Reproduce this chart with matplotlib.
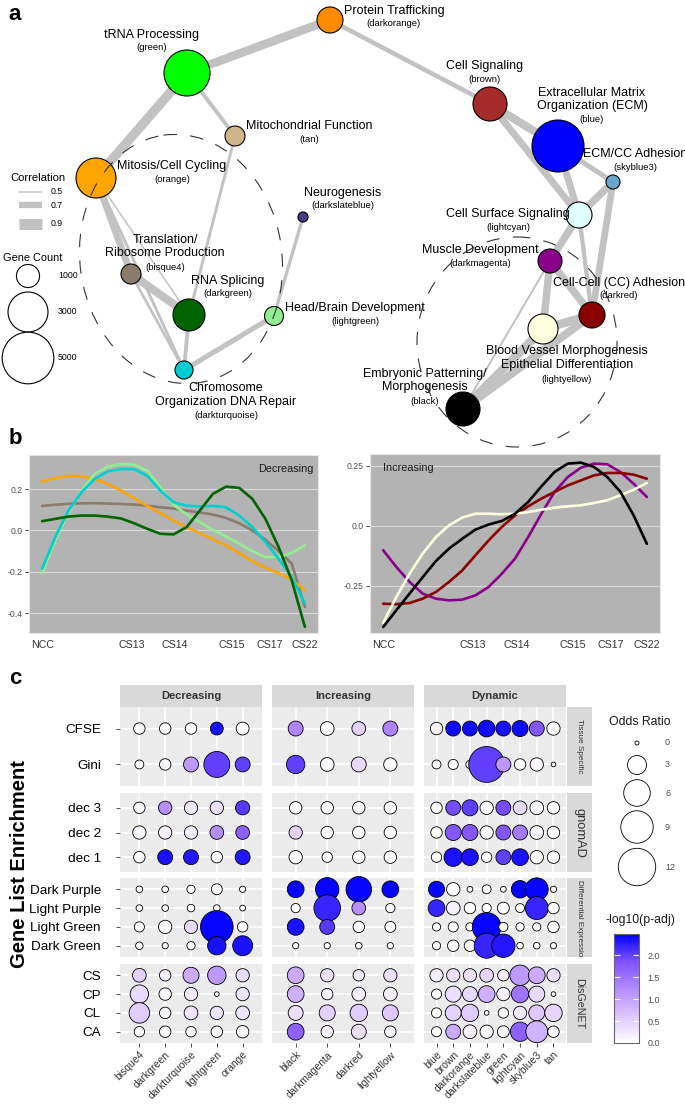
import matplotlib
matplotlib.use('Agg')
import matplotlib.pyplot as plt
from matplotlib.patches import Circle, Ellipse
from matplotlib.colors import LinearSegmentedColormap, Normalize
from matplotlib.cm import ScalarMappable

plt.rcParams['font.family'] = ['Liberation Sans', 'DejaVu Sans']

W, H = 685, 1105

# ---------------- panel a: module network ----------------
node_names = ['darkorange', 'green', 'tan', 'orange', 'darkslateblue', 'bisque4',
              'darkgreen', 'lightgreen', 'darkturquoise', 'brown', 'blue', 'skyblue3',
              'lightcyan', 'darkmagenta', 'darkred', 'lightyellow', 'black']
node_colors = ['#FF8C00', '#00FF00', '#D2B48C', '#FFA500', '#483D8B', '#8B7D6B',
               '#006400', '#90EE90', '#00CED1', '#A52A2A', '#0000FF', '#6CA6CD',
               '#E0FFFF', '#8B008B', '#8B0000', '#FFFFE0', '#000000']
node_x = [330, 187, 235, 96, 303, 131, 189, 274, 184, 490, 558, 613, 579, 550, 592, 543, 463]
node_y = [20, 73, 136, 178, 217, 274, 315, 316, 370, 104, 146, 182, 215, 261, 315, 329, 409]
node_genes = [1270, 3970, 750, 3000, 190, 750, 1920, 680, 610, 2170, 5070, 370,
              1270, 1080, 1270, 1690, 2170]
node_titles = ['Protein Trafficking', 'tRNA Processing', 'Mitochondrial Function',
               'Mitosis/Cell Cycling', 'Neurogenesis', 'Translation/\nRibosome Production',
               'RNA Splicing', 'Head/Brain Development',
               'Chromosome\nOrganization DNA Repair', 'Cell Signaling',
               'Extracellular Matrix\nOrganization (ECM)', 'ECM/CC Adhesion',
               'Cell Surface Signaling', 'Muscle Development', 'Cell-Cell (CC) Adhesion',
               'Blood Vessel Morphogenesis\nEpithelial Differentiation',
               'Embryonic Patterning/\nMorphogenesis']
title_x = [394, 152, 309, 172, 343, 165, 228, 355, 226, 485, 592, 635, 508, 480, 619, 567, 425]
title_y = [11, 35, 126, 166, 193, 246.5, 281, 308, 395, 66, 99.5, 154, 214, 250, 283, 358, 380.5]
sub_y = [24, 48, 139, 179, 206, 267, 294, 321, 415, 79, 120, 168, 228, 263, 296, 379, 402]

edges = [('darkorange', 'green', 0.80), ('darkorange', 'brown', 0.63),
         ('green', 'orange', 0.83), ('green', 'tan', 0.60), ('tan', 'darkgreen', 0.56),
         ('orange', 'bisque4', 0.73), ('orange', 'darkgreen', 0.50),
         ('orange', 'darkturquoise', 0.56), ('bisque4', 'darkgreen', 0.78),
         ('bisque4', 'darkturquoise', 0.55), ('darkgreen', 'darkturquoise', 0.60),
         ('darkturquoise', 'lightgreen', 0.65), ('lightgreen', 'darkslateblue', 0.58),
         ('brown', 'blue', 0.78), ('brown', 'lightcyan', 0.73), ('blue', 'skyblue3', 0.65),
         ('blue', 'lightcyan', 0.73), ('skyblue3', 'lightcyan', 0.75),
         ('skyblue3', 'darkred', 0.72), ('lightcyan', 'darkmagenta', 0.75),
         ('lightcyan', 'darkred', 0.62), ('darkmagenta', 'darkred', 0.75),
         ('darkmagenta', 'lightyellow', 0.75), ('darkmagenta', 'black', 0.52),
         ('lightyellow', 'darkred', 0.80), ('lightyellow', 'black', 0.80),
         ('darkred', 'black', 0.78)]

corr_legend = [0.5, 0.7, 0.9]
gene_legend = [1000, 3000, 5000]

# ---------------- panel b: expression trends ----------------
stage_labels = ['NCC', 'CS13', 'CS14', 'CS15', 'CS17', 'CS22']
stage_pos = [0, 3.4, 5.05, 7.2, 8.65, 10]
# curves every half unit along the time axis
trend_t = [0, 0.5, 1, 1.5, 2, 2.5, 3, 3.5, 4, 4.5, 5, 5.5, 6, 6.5, 7, 7.5, 8, 8.5, 9, 9.5, 10]

dec_names = ['bisque4', 'orange', 'lightgreen', 'darkturquoise', 'darkgreen']
dec_colors = ['#8B7D6B', '#FFA500', '#90EE90', '#00CED1', '#006400']
dec_bisque4 = [0.119, 0.124, 0.129, 0.131, 0.132, 0.130, 0.128, 0.125, 0.120, 0.112, 0.106,
               0.096, 0.087, 0.077, 0.061, 0.035, 0.0, -0.045, -0.10, -0.16, -0.37]
dec_orange = [0.236, 0.254, 0.263, 0.263, 0.249, 0.225, 0.193, 0.156, 0.119, 0.084, 0.048,
              0.016, -0.013, -0.042, -0.072, -0.109, -0.148, -0.18, -0.206, -0.238, -0.289]
dec_lightgreen = [-0.206, -0.048, 0.088, 0.193, 0.273, 0.308, 0.321, 0.318, 0.289, 0.209,
                  0.125, 0.077, 0.04, 0.003, -0.029, -0.064, -0.10, -0.129, -0.129, -0.109,
                  -0.072]
dec_darkturquoise = [-0.185, -0.032, 0.096, 0.185, 0.249, 0.286, 0.297, 0.297, 0.265, 0.193,
                     0.137, 0.12, 0.116, 0.119, 0.112, 0.072, 0.016, -0.056, -0.137, -0.225,
                     -0.353]
dec_darkgreen = [0.045, 0.056, 0.067, 0.072, 0.072, 0.067, 0.058, 0.035, 0.008, -0.016,
                 -0.019, 0.016, 0.096, 0.177, 0.212, 0.206, 0.153, 0.056, -0.08, -0.241,
                 -0.466]
dec_values = [dec_bisque4, dec_orange, dec_lightgreen, dec_darkturquoise, dec_darkgreen]

inc_names = ['darkmagenta', 'darkred', 'lightyellow', 'black']
inc_colors = ['#8B008B', '#8B0000', '#FFFFE0', '#000000']
inc_darkmagenta = [-0.101, -0.171, -0.233, -0.282, -0.303, -0.31, -0.307, -0.289, -0.254,
                   -0.199, -0.136, -0.046, 0.051, 0.142, 0.204, 0.243, 0.26, 0.257, 0.225,
                   0.176, 0.121]
inc_darkred = [-0.324, -0.326, -0.321, -0.303, -0.275, -0.233, -0.185, -0.122, -0.06, -0.004,
               0.044, 0.082, 0.114, 0.142, 0.169, 0.19, 0.211, 0.221, 0.221, 0.214, 0.197]
inc_lightyellow = [-0.404, -0.296, -0.199, -0.115, -0.046, 0.003, 0.035, 0.051, 0.051, 0.049,
                   0.051, 0.058, 0.068, 0.076, 0.082, 0.086, 0.096, 0.107, 0.128, 0.151,
                   0.179]
inc_black = [-0.421, -0.351, -0.282, -0.213, -0.146, -0.094, -0.053, -0.015, 0.006, 0.021,
             0.051, 0.10, 0.165, 0.225, 0.26, 0.264, 0.246, 0.204, 0.142, 0.044, -0.074]
inc_values = [inc_darkmagenta, inc_darkred, inc_lightyellow, inc_black]

# ---------------- panel c: enrichment dot plot ----------------
col_facets = ['Decreasing', 'Increasing', 'Dynamic']
mods_decreasing = ['bisque4', 'darkgreen', 'darkturquoise', 'lightgreen', 'orange']
mods_increasing = ['black', 'darkmagenta', 'darkred', 'lightyellow']
mods_dynamic = ['blue', 'brown', 'darkorange', 'darkslateblue', 'green', 'lightcyan',
                'skyblue3', 'tan']

row_facets = ['Tissue Specific', 'gnomAD', 'Differential Expression', 'DisGeNET']
lists_tissue = ['CFSE', 'Gini']
lists_gnomad = ['dec 3', 'dec 2', 'dec 1']
lists_diffexp = ['Dark Purple', 'Light Purple', 'Light Green', 'Dark Green']
lists_disgenet = ['CS', 'CP', 'CL', 'CA']

# odds ratio, columns: decreasing | increasing | dynamic modules
or_tissue = [[1.0, 1.0, 1.0, 1.3, 1.3, 1.8, 1.5, 1.5, 1.8, 1.2, 1.8, 1.8, 2.3, 1.8, 2.1, 1.8, 1.4],
             [0.55, 1.0, 1.8, 5.7, 1.8, 2.8, 1.5, 1.8, 1.4, 0.55, 0.75, 0.44, 11.0, 1.8, 1.0, 1.4, 0.05]]
or_gnomad = [[1.0, 1.4, 1.4, 1.4, 1.6, 1.2, 1.2, 1.2, 1.2, 1.0, 1.8, 2.1, 1.4, 1.8, 1.5, 1.5, 1.2],
             [1.4, 1.4, 1.4, 1.5, 1.5, 1.4, 1.2, 1.2, 1.2, 1.0, 2.1, 2.1, 1.4, 1.8, 1.8, 1.5, 1.2],
             [1.0, 1.8, 1.8, 1.0, 1.8, 1.4, 0.8, 1.2, 1.2, 0.8, 2.8, 2.3, 0.8, 1.8, 2.3, 1.4, 1.2]]
or_diffexp = [[0.24, 0.24, 0.45, 0.9, 0.2, 2.3, 4.6, 5.5, 2.3, 2.1, 1.4, 0.15, 0.55, 0.15, 2.5, 4.4, 0.2],
              [0.24, 0.24, 0.35, 0.24, 0.15, 0.6, 6.0, 1.5, 0.6, 2.3, 1.5, 1.0, 0.6, 1.1, 0.55, 4.4, 1.0],
              [0.75, 1.4, 1.4, 9.1, 0.8, 2.3, 1.8, 1.0, 0.9, 0.45, 0.75, 0.45, 7.0, 0.6, 0.45, 0.45, 1.0],
              [0.35, 0.2, 0.45, 2.8, 3.3, 0.2, 0.2, 0.24, 0.2, 0.45, 1.0, 1.0, 5.3, 4.6, 0.24, 0.24, 0.2]]
or_disgenet = [[1.5, 1.0, 2.1, 2.8, 1.4, 2.3, 1.4, 1.0, 1.4, 1.4, 1.4, 1.4, 1.5, 1.0, 3.5, 2.3, 1.4],
               [2.8, 1.2, 1.4, 0.05, 1.4, 2.3, 1.0, 1.5, 1.5, 0.75, 2.1, 1.8, 2.3, 1.4, 2.5, 2.1, 0.05],
               [3.5, 1.0, 1.5, 1.4, 1.5, 1.8, 2.1, 2.5, 2.1, 0.75, 2.1, 2.5, 0.05, 0.8, 1.4, 2.1, 2.5],
               [0.8, 1.0, 0.8, 1.0, 1.2, 2.3, 1.2, 1.8, 1.0, 0.75, 1.8, 1.5, 1.4, 1.1, 3.1, 4.0, 1.0]]

# -log10(p-adj)
p_tissue = [[0, 0, 0, 2.35, 0, 1.3, 0, 0.5, 1.3, 0.05, 2.4, 2.4, 2.4, 2.35, 2.4, 1.8, 0],
            [0, 0.05, 1.1, 2.0, 2.0, 2.0, 0.1, 0.4, 0, 0, 0, 0, 2.0, 1.1, 0, 0.1, 0]]
p_gnomad = [[0, 1.2, 0.25, 0.35, 2.05, 0, 0, 0, 0, 0, 1.9, 2.0, 0, 1.9, 0.4, 0.1, 0],
            [0.1, 0.2, 0.2, 1.2, 1.7, 0.5, 0, 0, 0, 0, 1.8, 1.8, 0, 1.8, 1.4, 0.1, 0],
            [0, 2.35, 2.3, 0, 2.3, 0, 0, 0, 0, 0, 2.35, 2.35, 0, 2.0, 2.35, 0, 0]]
p_diffexp = [[0, 0, 0, 0, 0, 2.45, 2.45, 2.45, 2.45, 2.45, 0, 0, 0, 0, 2.45, 2.45, 0],
             [0, 0, 0, 0, 0, 0, 2.2, 1.2, 0, 2.2, 0.15, 0, 0, 0, 0, 2.2, 0],
             [0, 0, 0.4, 2.45, 0, 2.35, 2.05, 0, 0, 0, 0, 0, 2.45, 0, 0, 0, 0],
             [0, 0, 0, 2.35, 2.35, 0, 0, 0, 0, 0, 0, 0, 2.2, 2.3, 0, 0, 0]]
p_disgenet = [[0.5, 0.15, 0.9, 1.1, 0.4, 0.9, 0.35, 0.25, 0.35, 0.2, 0.35, 0.35, 0.45, 0.15, 1.1, 0.9, 0.35],
              [0.4, 0.1, 0.25, 0, 0.3, 0.85, 0.15, 0.2, 0.2, 0, 0.35, 0.4, 0.85, 0.15, 1.5, 0.4, 0],
              [0.55, 0.1, 0.3, 0.3, 0.3, 0.35, 0.5, 0.55, 0.6, 0, 0.5, 0.55, 0, 0, 0.25, 0.6, 0.45],
              [0, 0.05, 0, 0.05, 0.05, 1.7, 0.15, 0.35, 0.1, 0, 0.9, 0.15, 0.1, 0.1, 1.7, 0.8, 0.05]]

odds_legend = [0, 3, 6, 9, 12]
p_ticks = [0.0, 0.5, 1.0, 1.5, 2.0]


def rect(x0, y0, x1, y1):
    return [x0 / W, 1 - y1 / H, (x1 - x0) / W, (y1 - y0) / H]


def fx(x):
    return x / W


def fy(y):
    return 1 - y / H


def node_radius(n):
    return 0.365 * n ** 0.5


def edge_width(c):
    # pixels -> points
    return (1.5 + (c - 0.5) * 23.75) * 0.72


def dot_size(o):
    # odds ratio -> marker area in pt^2
    r = (4 + 28.8 * o) ** 0.5
    return (2 * r * 0.72) ** 2


fig = plt.figure(figsize=(W / 100, H / 100), dpi=100)

# ---- a
ax = fig.add_axes(rect(0, 0, W, 455))
ax.set_xlim(0, W)
ax.set_ylim(455, 0)
ax.axis('off')
idx = {n: i for i, n in enumerate(node_names)}
for a, b, c in edges:
    ax.plot([node_x[idx[a]], node_x[idx[b]]], [node_y[idx[a]], node_y[idx[b]]],
            color='#C2C2C2', lw=edge_width(c), solid_capstyle='butt', zorder=1)
for i, n in enumerate(node_names):
    ax.add_patch(Circle((node_x[i], node_y[i]), node_radius(node_genes[i]),
                        fc=node_colors[i], ec='black', lw=0.8, zorder=2))
    ax.text(title_x[i], title_y[i], node_titles[i], ha='center', va='center',
            fontsize=9, linespacing=1.15, zorder=4)
    ax.text(title_x[i], sub_y[i], '(' + n + ')', ha='center', va='center',
            fontsize=6.8, zorder=4)

ax.add_patch(Ellipse((181, 259), 202, 250, angle=-8, fill=False, ec='#333333', lw=0.8,
                     ls=(0, (12, 12)), zorder=5))
ax.add_patch(Ellipse((517, 342), 200, 210, angle=0, fill=False, ec='#333333', lw=0.8,
                     ls=(0, (12, 12)), zorder=5))

ax.text(38, 178, 'Correlation', ha='center', va='center', fontsize=8.1)
for c, yy in zip(corr_legend, [192, 205, 224]):
    ax.plot([19, 42], [yy, yy], color='#C2C2C2', lw=edge_width(c), solid_capstyle='butt')
    ax.text(51, yy, str(c), ha='left', va='center', fontsize=6.3)
ax.text(33, 258, 'Gene Count', ha='center', va='center', fontsize=7.9)
for g, yy in zip(gene_legend, [276, 312, 358]):
    ax.add_patch(Circle((28, yy), node_radius(g), fc='white', ec='black', lw=0.8))
    ax.text(58, yy, str(g), ha='left', va='center', fontsize=6.3)


# ---- b
def trend_axes(r, v_list, colors, ylim, yticks, ylabels, label, lx, lha):
    axb = fig.add_axes(rect(*r))
    axb.set_facecolor('#B3B3B3')
    for v, col in zip(v_list, colors):
        axb.plot(trend_t, v, color=col, lw=1.9, solid_capstyle='round',
                 solid_joinstyle='round')
    axb.set_xlim(-0.5, 10.5)
    axb.set_ylim(*ylim)
    axb.set_yticks(yticks)
    axb.set_yticklabels(ylabels)
    axb.set_xticks(stage_pos)
    axb.set_xticklabels(stage_labels)
    axb.yaxis.grid(True, color='#D9D9D9', lw=0.8)
    axb.set_axisbelow(True)
    axb.tick_params(axis='y', length=2.75, width=0.6, color='#333333', labelsize=6.2,
                    labelcolor='#4D4D4D', pad=2)
    axb.tick_params(axis='x', length=0, labelsize=7.7, labelcolor='#333333', pad=5)
    for s in axb.spines.values():
        s.set_color('#E6E6E6')
        s.set_linewidth(0.8)
    axb.text(lx, 0.92, label, transform=axb.transAxes, ha=lha, va='center',
             fontsize=7.8, color='#1A1A1A')
    return axb


trend_axes((29, 455, 318, 633), dec_values, dec_colors, (-0.496, 0.365),
           [-0.4, -0.2, 0.0, 0.2], ['-0.4', '-0.2', '0.0', '0.2'], 'Decreasing', 0.983, 'right')
trend_axes((370, 454, 660, 633), inc_values, inc_colors, (-0.446, 0.30),
           [-0.25, 0.0, 0.25], ['-0.25', '0.0', '0.25'], 'Increasing', 0.045, 'left')

# ---- c
cmap = LinearSegmentedColormap.from_list(
    'white_blue', ['#FFFFFF', '#DCC5FF', '#B38BFF', '#7E52FF', '#0000FF'])
norm = Normalize(0, 2.48)

col_mods = [mods_decreasing, mods_increasing, mods_dynamic]
row_lists = [lists_tissue, lists_gnomad, lists_diffexp, lists_disgenet]
row_or = [or_tissue, or_gnomad, or_diffexp, or_disgenet]
row_p = [p_tissue, p_gnomad, p_diffexp, p_disgenet]
col_px = [(120, 262), (272, 414), (424, 566)]
row_px = [(707, 786), (793, 872), (878, 957), (964, 1043)]
strip_fs = [5.9, 9.3, 5.85, 7.7]

offsets = [0, len(mods_decreasing), len(mods_decreasing) + len(mods_increasing)]
for gi in range(4):
    labels = row_lists[gi]
    m = len(labels)
    for ci in range(3):
        mods = col_mods[ci]
        n = len(mods)
        x0, x1 = col_px[ci]
        y0, y1 = row_px[gi]
        axc = fig.add_axes(rect(x0, y0, x1, y1))
        axc.set_facecolor('#EBEBEB')
        xs, ys, ss, vs = [], [], [], []
        for k in range(m):
            for j in range(n):
                xs.append(j)
                ys.append(m - 1 - k)
                ss.append(dot_size(row_or[gi][k][offsets[ci] + j]))
                vs.append(row_p[gi][k][offsets[ci] + j])
        axc.scatter(xs, ys, s=ss, c=vs, cmap=cmap, norm=norm, edgecolors='black',
                    linewidths=0.6, clip_on=False, zorder=3)
        axc.set_xlim(-0.75, n - 0.25)
        axc.set_ylim(-0.6, m - 0.4)
        axc.set_xticks(range(n))
        axc.set_yticks(range(m))
        axc.grid(True, color='white', lw=1.1)
        axc.set_axisbelow(True)
        for s in axc.spines.values():
            s.set_visible(False)
        axc.tick_params(length=2.75, width=0.6, color='#333333')
        if ci == 0:
            axc.set_yticklabels(labels[::-1], fontsize=9.7, color='black')
            axc.tick_params(axis='y', pad=11)
        else:
            axc.tick_params(axis='y', left=False, labelleft=False)
        if gi == 3:
            axc.set_xticklabels(mods, rotation=45, ha='right', va='top',
                                rotation_mode='anchor', fontsize=7.5, color='#333333')
            axc.tick_params(axis='x', pad=2)
        else:
            axc.tick_params(axis='x', bottom=False, labelbottom=False)

        if gi == 0:
            axs = fig.add_axes(rect(x0, 685, x1, 707))
            axs.set_facecolor('#D9D9D9')
            axs.set_xticks([])
            axs.set_yticks([])
            for s in axs.spines.values():
                s.set_visible(False)
            axs.text(0.5, 0.5, col_facets[ci], transform=axs.transAxes, ha='center',
                     va='center', fontsize=8, fontweight='bold', color='#333333')
    y0, y1 = row_px[gi]
    axr = fig.add_axes(rect(567, y0, 592, y1))
    axr.set_facecolor('#D9D9D9')
    axr.set_xticks([])
    axr.set_yticks([])
    for s in axr.spines.values():
        s.set_visible(False)
    if gi == 2:
        axr.text(0.5, 0.97, row_facets[gi], transform=axr.transAxes, ha='center', va='top',
                 rotation=270, fontsize=strip_fs[gi], color='#333333', clip_on=True)
    else:
        axr.text(0.5, 0.5, row_facets[gi], transform=axr.transAxes, ha='center',
                 va='center', rotation=270, fontsize=strip_fs[gi], color='#333333')

# odds ratio legend
axl = fig.add_axes(rect(595, 700, 685, 900))
axl.set_xlim(595, 685)
axl.set_ylim(900, 700)
axl.axis('off')
axl.text(640, 722, 'Odds Ratio', ha='center', va='center', fontsize=8.8, color='#1A1A1A')
leg_y = [743, 765, 793, 827, 867]
axl.scatter([637] * len(odds_legend), leg_y, s=[dot_size(o) for o in odds_legend],
            facecolors='white', edgecolors='black', linewidths=0.6, clip_on=False)
for o, yy in zip(odds_legend, leg_y):
    axl.text(665, yy, str(o), ha='left', va='center', fontsize=6.5, color='#4D4D4D')

# colour bar
fig.text(fx(640), fy(920), '-log10(p-adj)', ha='center', va='center', fontsize=8.8,
         color='#1A1A1A')
cax = fig.add_axes(rect(614, 934, 639, 1043))
cb = fig.colorbar(ScalarMappable(norm=norm, cmap=cmap), cax=cax)
cb.set_ticks(p_ticks)
cb.set_ticklabels(['0.0', '0.5', '1.0', '1.5', '2.0'])
cb.outline.set_edgecolor('#666666')
cb.outline.set_linewidth(0.8)
cax.yaxis.set_ticks_position('both')
cax.tick_params(direction='in', length=4, width=0.8, color='white', labelsize=6.5,
                labelcolor='#4D4D4D', pad=6, labelleft=False, labelright=True)

fig.text(fx(20), fy(864), 'Gene List Enrichment', rotation=90, ha='center', va='center',
         fontsize=14.5, fontweight='bold')

for lab, yy in [('a', 15), ('b', 439), ('c', 678)]:
    fig.text(fx(15), fy(yy), lab, ha='center', va='center', fontsize=16, fontweight='bold')

fig.savefig('out.png', dpi=100)
